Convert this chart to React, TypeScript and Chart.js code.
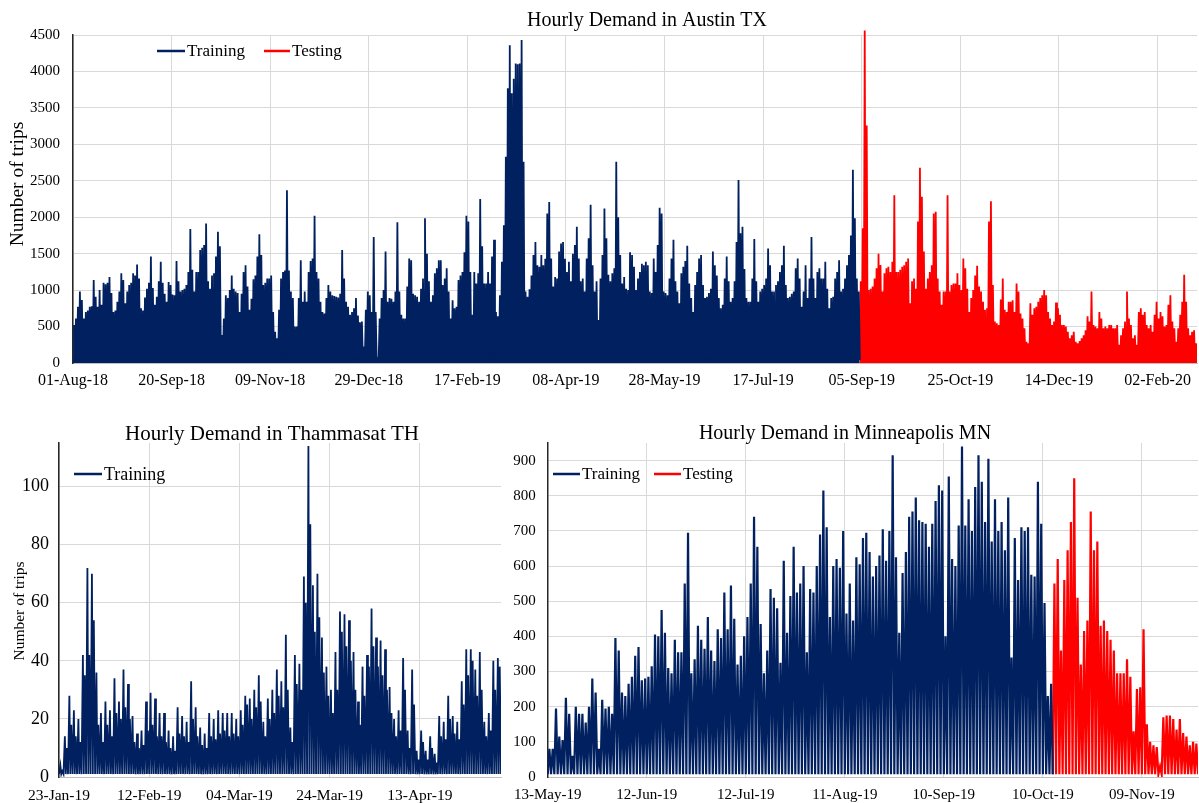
import React, { useEffect, useRef } from "react";
import { Chart, registerables } from "chart.js";

Chart.register(...registerables);

const NAVY = "#002060";
const RED = "#ff0000";
const GRID = "#d9d9d9";
const AXIS = "#262626";
const FONT = "'Liberation Serif', 'Times New Roman', Times, serif";

// ---------- Austin TX: daily peak of hourly trips, one value per day from 01-Aug-18 ----------
const AUSTIN_TRAIN_PEAKS = [
  520, 610, 770, 980, 865, 610, 700, 720, 770, 780,
  1140, 910, 773, 1000, 800, 1100, 1080, 1100, 1180, 960,
  700, 720, 840, 980, 1230, 1140, 820, 980, 1070, 1100,
  1230, 1200, 1350, 1160, 750, 720, 900, 1020, 1100, 1460,
  1030, 800, 910, 1120, 1390, 1100, 950, 840, 1110, 1070,
  940, 930, 1400, 1120, 980, 1000, 1020, 1070, 1250, 1840,
  1280, 980, 1250, 1250, 1550, 1580, 1620, 1915, 1120, 1020,
  1200, 1230, 1460, 1800, 1600, 385, 610, 930, 890, 1000,
  1200, 1020, 980, 960, 700, 950, 1250, 1340, 1050, 730,
  880, 1150, 1200, 1460, 1765, 1480, 1070, 1100, 1160, 1160,
  1200, 700, 430, 340, 730, 1160, 1250, 1270, 2370, 1270,
  980, 890, 500, 500, 890, 1410, 840, 980, 840, 1250,
  1400, 1435, 2020, 1250, 1160, 840, 700, 680, 890, 1070,
  980, 930, 920, 910, 900, 950, 1550, 1160, 840, 770,
  660, 700, 750, 890, 650, 560,
  570, 225, 730, 980, 930, 700, 1730, 700, 60, 610,
  890, 1000, 1530, 840, 890, 880, 840, 980, 1930, 980,
  660, 610, 610, 1050, 1435, 1410, 950, 930, 910, 840,
  1020, 1160, 1985, 1500, 1120, 840, 930, 1230, 1300, 1410,
  1410, 1070, 1160, 1300, 980, 610, 860, 750, 770, 1140,
  1200, 1250, 1520, 2020, 1940, 1250, 660, 1250, 1090, 1230,
  2250, 1600, 1090, 1090, 1250, 1090, 1460, 1690, 700, 640,
  930, 1390, 1890, 2830, 3770, 4360, 3700, 3900, 4110, 4100,
  4110, 4430, 2760, 980, 910, 1010, 1200, 1480, 1660, 1340,
  1320, 1480, 1340, 1430, 2050, 2210, 1435, 1050, 1180, 1160,
  1530, 1640, 1660, 1430, 1250, 1390, 1120, 1500, 1620, 1870,
  1435, 1120, 1160, 980, 1435, 1710, 2170, 1340, 980, 1120,
  590, 1160, 1480, 2120, 1710, 1210, 1120, 1230, 1300, 2760,
  2000, 1480, 1090, 1180, 1020, 1000, 1520, 1480, 1320, 1000,
  1160, 1250, 1360, 1340, 1390, 1340, 980,
  960, 1435, 1250, 1620, 2130, 2050, 980, 960, 930, 1160,
  1435, 1690, 1120, 980, 820, 1230, 1320, 1400, 1610, 1090,
  890, 700, 1070, 1250, 1435, 1480, 1070, 890, 910, 960,
  1020, 1530, 1340, 1200, 890, 750, 800, 1160, 1460, 1120,
  840, 890, 1120, 1660, 2510, 1780, 1870, 1290, 890, 840,
  840, 1160, 1700, 1120, 840, 980, 1020, 1070, 1160, 1570,
  1340, 980, 980, 1070, 1120, 1250, 1340, 1610, 1070, 890,
  910, 950, 980, 1300, 1435, 1160, 770, 980, 1340, 890,
  1160, 1730, 1160, 890, 1250, 1300, 1160, 1160, 1390, 1020,
  750, 890, 910, 1160, 1250, 1410, 980, 1020, 1160, 1340,
  1480, 1750, 2650, 1985, 1160, 980,
];

const AUSTIN_TEST_PEAKS = [
  1120, 1850, 4560, 3260, 1000, 1020, 1050, 1160, 1300, 1500,
  1345, 980, 1230, 1300, 1320, 1250, 1390, 2300, 1250, 1250,
  1280, 1320, 1340, 1390, 1435, 820, 1120, 1160, 1020, 1940,
  2680, 2280, 1530, 1020, 1160, 1250, 1340, 2050, 2075, 1160,
  980, 800, 980, 980, 2300, 980, 1070, 1090, 1090, 1230,
  1070, 1000, 1435, 1300, 1020, 700, 890, 1000, 1200, 1335,
  1050, 980, 840, 730, 750, 1940, 2220, 1070, 570, 545,
  520, 870, 1160, 730, 700, 840, 840, 860, 700, 1090,
  980, 680, 610, 475, 290, 270, 820, 660, 750, 770,
  840, 890, 930, 1000, 930, 700, 610, 520, 570, 830,
  750, 660, 520, 520, 500, 430, 340, 380, 430, 290,
  270, 300, 340, 380, 450, 640, 570, 980, 520, 500,
  475, 700, 610, 475, 500, 475, 520, 520, 475, 475,
  520, 250, 380, 475, 570, 980, 610, 520, 340, 380,
  250, 700, 750, 660, 700, 520, 475, 520, 430, 660,
  840, 610, 700, 640, 500, 520, 800, 930, 570, 475,
  290, 475, 660, 840, 1210, 840, 475, 380, 430, 450,
  270,
];

const AUSTIN_NIGHT_LOW = 40;
const AUSTIN_DATES = [
  "01-Aug-18", "20-Sep-18", "09-Nov-18", "29-Dec-18", "17-Feb-19", "08-Apr-19",
  "28-May-19", "17-Jul-19", "05-Sep-19", "25-Oct-19", "14-Dec-19", "02-Feb-20",
];
const AUSTIN_DATE_STEP = 50;
const AUSTIN_DAYS = 570;

// ---------- Thammasat TH: morning and afternoon peaks per day from 23-Jan-19 ----------
const THAMMASAT_MAIN_PEAKS = [
  4, 14, 28, 23, 20, 42, 72, 70, 36, 22,
  26, 23, 34, 26, 37, 32, 21, 15, 16, 26,
  29, 27, 22, 22, 16, 14, 24, 21, 19, 33,
  24, 17, 15, 22, 20, 23, 22, 22, 22, 20,
  23, 28, 27, 30, 35, 19, 27, 30, 37, 33,
  49, 17, 42, 39, 69, 114, 66, 70, 48, 38,
  30, 43, 57, 56, 54, 43, 26, 38, 42, 58,
  48, 47, 44, 31, 20, 23, 41, 16, 37, 9,
  16, 9, 14, 8, 21, 19, 28, 21, 19, 33,
  44, 44, 37, 43, 19, 22, 40, 41,
];
const THAMMASAT_SECOND_PEAKS = [
  2, 10, 18, 14, 12, 35, 42, 54, 18, 12,
  18, 14, 22, 20, 24, 20, 12, 10, 11, 16,
  18, 14, 14, 12, 10, 9, 15, 14, 12, 20,
  14, 11, 10, 14, 13, 15, 16, 14, 15, 14,
  18, 25, 20, 24, 26, 14, 20, 22, 28, 24,
  30, 12, 32, 30, 60, 87, 50, 55, 36, 28,
  22, 30, 50, 45, 40, 30, 18, 28, 38, 45,
  38, 35, 30, 22, 14, 16, 30, 10, 25, 6,
  12, 6, 10, 5, 14, 13, 20, 15, 13, 25,
  35, 40, 28, 30, 14, 16, 30, 38,
];
const THAMMASAT_NIGHT_LOW = 1;
const THAMMASAT_DATES = ["23-Jan-19", "12-Feb-19", "04-Mar-19", "24-Mar-19", "13-Apr-19"];
const THAMMASAT_DATE_STEP = 20;
const THAMMASAT_DAYS = 98;

// ---------- Minneapolis MN: daily peak of hourly trips from 13-May-19 ----------
const MINNEAPOLIS_TRAIN_PEAKS = [
  80, 80, 195, 115, 105, 225, 180, 60, 200, 180,
  180, 155, 200, 280, 240, 80, 220, 195, 200, 180,
  395, 360, 240, 230, 265, 285, 345, 370, 275, 280,
  285, 315, 405, 400, 475, 410, 310, 295, 390, 355,
  355, 550, 695, 295, 335, 430, 390, 365, 455, 360,
  330, 420, 395, 525, 420, 545, 450, 320, 345, 400,
  455, 550, 740, 655, 435, 295, 360, 535, 510, 480,
  325, 615, 410, 515, 655, 525, 550, 600, 355, 535,
  525, 600, 690, 815, 710, 455, 600, 620, 595, 700,
  465, 550, 445, 625, 605, 680, 695, 640, 570, 600,
  630, 705, 615, 700, 915, 625, 410, 580, 640, 740,
  755, 795, 730, 725, 720, 655, 720, 785, 830, 815,
  400, 855, 620, 600, 715, 940, 715, 790, 700, 825,
  915, 840, 725, 905, 670, 790, 700, 725, 645, 795,
  340, 680, 560, 710, 700, 710, 575, 570, 840, 720,
  495, 230, 265,
];
const MINNEAPOLIS_TEST_PEAKS = [
  550, 620, 360, 560, 645, 725, 850, 510, 320, 415,
  445, 755, 645, 670, 430, 445, 415, 390, 360, 295,
  295, 295, 335, 285, 130, 250, 255, 420, 150, 100,
  90, 85, 30, 170, 175, 175, 165, 135, 165, 125,
  115, 90, 100, 95,
];
const MINNEAPOLIS_NIGHT_LOW = 8;
const MINNEAPOLIS_DATES = [
  "13-May-19", "12-Jun-19", "12-Jul-19", "11-Aug-19", "10-Sep-19", "10-Oct-19", "09-Nov-19",
];
const MINNEAPOLIS_DATE_STEP = 30;
const MINNEAPOLIS_DAYS = 197;

// ---------- helpers ----------
type Pt = { x: number; y: number };

// Each day: an overnight low followed by the daily peak; the run closes on a low.
function dailyPeaks(peaks: number[], firstDay: number, low: number): Pt[] {
  const pts: Pt[] = [];
  peaks.forEach((p, i) => {
    pts.push({ x: firstDay + i, y: low });
    pts.push({ x: firstDay + i + 0.5, y: p });
  });
  pts.push({ x: firstDay + peaks.length, y: low });
  return pts;
}

// Each day: low, morning peak, midday dip, afternoon peak.
function twicePerDay(main: number[], second: number[], low: number): Pt[] {
  const pts: Pt[] = [];
  main.forEach((p, i) => {
    pts.push({ x: i, y: low });
    pts.push({ x: i + 0.3, y: p });
    pts.push({ x: i + 0.5, y: low });
    pts.push({ x: i + 0.72, y: second[i] });
  });
  pts.push({ x: main.length, y: low });
  return pts;
}

type LegendItem = { label: string; color: string; x1: number; x2: number };
type OverlaySpec = {
  title: { text: string; x: number; y: number; size: number };
  yTitle?: { text: string; x: number; y: number; size: number };
  legend: { y: number; size: number; items: LegendItem[] };
};

function overlayPlugin(spec: OverlaySpec) {
  return {
    id: "panelOverlay",
    afterDraw(chart: Chart) {
      const ctx = chart.ctx;
      ctx.save();
      ctx.fillStyle = "#000";
      ctx.textAlign = "center";
      ctx.textBaseline = "middle";
      ctx.font = `${spec.title.size}px ${FONT}`;
      ctx.fillText(spec.title.text, spec.title.x, spec.title.y);

      if (spec.yTitle) {
        ctx.save();
        ctx.translate(spec.yTitle.x, spec.yTitle.y);
        ctx.rotate(-Math.PI / 2);
        ctx.font = `${spec.yTitle.size}px ${FONT}`;
        ctx.fillText(spec.yTitle.text, 0, 0);
        ctx.restore();
      }

      ctx.textAlign = "left";
      ctx.font = `${spec.legend.size}px ${FONT}`;
      for (const item of spec.legend.items) {
        ctx.strokeStyle = item.color;
        ctx.lineWidth = 2.5;
        ctx.beginPath();
        ctx.moveTo(item.x1, spec.legend.y);
        ctx.lineTo(item.x2, spec.legend.y);
        ctx.stroke();
        ctx.fillStyle = "#000";
        ctx.fillText(item.label, item.x2 + 2, spec.legend.y + 1);
      }
      ctx.restore();
    },
  };
}

type PanelSpec = {
  datasets: any[];
  dates: string[];
  dateStep: number;
  dayMax: number;
  yMax: number;
  yStep: number;
  yWidth: number;
  xHeight: number;
  padTop: number;
  padRight: number;
  yFont: number;
  xFont: number;
  yPad: number;
  xPad: number;
  overlay: OverlaySpec;
};

function createPanel(canvas: HTMLCanvasElement, spec: PanelSpec): Chart {
  return new Chart(canvas, {
    type: "line",
    data: { datasets: spec.datasets },
    options: {
      responsive: false,
      animation: false,
      devicePixelRatio: 1,
      parsing: false,
      layout: { padding: { top: spec.padTop, right: spec.padRight, left: 0, bottom: 0 } },
      plugins: {
        legend: { display: false },
        title: { display: false },
        tooltip: { enabled: false },
      },
      elements: { point: { radius: 0 }, line: { tension: 0 } },
      scales: {
        x: {
          type: "linear",
          min: 0,
          max: spec.dayMax,
          afterBuildTicks: (s: any) => {
            s.ticks = spec.dates.map((_, i) => ({ value: i * spec.dateStep }));
          },
          afterFit: (s: any) => {
            s.height = spec.xHeight;
          },
          ticks: {
            autoSkip: false,
            maxRotation: 0,
            padding: spec.xPad,
            color: "#000",
            font: { family: FONT, size: spec.xFont },
            callback: (v: any) => spec.dates[Math.round(Number(v) / spec.dateStep)] ?? "",
          },
          grid: { color: GRID, drawTicks: false },
          border: { color: "#bfbfbf" },
        },
        y: {
          min: 0,
          max: spec.yMax,
          afterFit: (s: any) => {
            s.width = spec.yWidth;
          },
          ticks: {
            stepSize: spec.yStep,
            includeBounds: false,
            padding: spec.yPad,
            color: "#000",
            font: { family: FONT, size: spec.yFont },
            callback: (v: any) => String(v),
          },
          grid: { color: GRID, drawTicks: false },
          border: { color: AXIS, width: 1.5 },
        },
      },
    } as any,
    plugins: [overlayPlugin(spec.overlay)],
  });
}

const AUSTIN_PANEL: PanelSpec = {
  datasets: [
    {
      label: "Training",
      data: dailyPeaks(AUSTIN_TRAIN_PEAKS, 0, AUSTIN_NIGHT_LOW),
      borderColor: NAVY,
      backgroundColor: NAVY,
      borderWidth: 1.8,
      fill: "origin",
    },
    {
      label: "Testing",
      data: dailyPeaks(AUSTIN_TEST_PEAKS, AUSTIN_TRAIN_PEAKS.length, AUSTIN_NIGHT_LOW),
      borderColor: RED,
      backgroundColor: RED,
      borderWidth: 1.8,
      fill: "origin",
      clip: { left: 0, top: 8, right: 0, bottom: 0 },
    },
  ],
  dates: AUSTIN_DATES,
  dateStep: AUSTIN_DATE_STEP,
  dayMax: AUSTIN_DAYS,
  yMax: 4500,
  yStep: 500,
  yWidth: 73,
  xHeight: 37,
  padTop: 35,
  padRight: 2,
  yFont: 15,
  xFont: 16,
  yPad: 13,
  xPad: 8,
  overlay: {
    title: { text: "Hourly Demand in Austin TX", x: 647, y: 21, size: 20 },
    yTitle: { text: "Number of trips", x: 18, y: 184, size: 19.5 },
    legend: {
      y: 51,
      size: 17,
      items: [
        { label: "Training", color: NAVY, x1: 157, x2: 185 },
        { label: "Testing", color: RED, x1: 264, x2: 290 },
      ],
    },
  },
};

const THAMMASAT_PANEL: PanelSpec = {
  datasets: [
    {
      label: "Training",
      data: twicePerDay(THAMMASAT_MAIN_PEAKS, THAMMASAT_SECOND_PEAKS, THAMMASAT_NIGHT_LOW),
      borderColor: NAVY,
      borderWidth: 1.8,
      fill: false,
    },
  ],
  dates: THAMMASAT_DATES,
  dateStep: THAMMASAT_DATE_STEP,
  dayMax: THAMMASAT_DAYS,
  yMax: 115,
  yStep: 20,
  yWidth: 59,
  xHeight: 26,
  padTop: 23,
  padRight: 4,
  yFont: 18,
  xFont: 15.5,
  yPad: 10,
  xPad: 10,
  overlay: {
    title: { text: "Hourly Demand in Thammasat TH", x: 272, y: 14, size: 21 },
    yTitle: { text: "Number of trips", x: 20, y: 191, size: 15.5 },
    legend: {
      y: 54,
      size: 18,
      items: [{ label: "Training", color: NAVY, x1: 74, x2: 102 }],
    },
  },
};

const MINNEAPOLIS_PANEL: PanelSpec = {
  datasets: [
    {
      label: "Training",
      data: dailyPeaks(MINNEAPOLIS_TRAIN_PEAKS, 0, MINNEAPOLIS_NIGHT_LOW),
      borderColor: NAVY,
      borderWidth: 2.2,
      fill: false,
    },
    {
      label: "Testing",
      data: dailyPeaks(MINNEAPOLIS_TEST_PEAKS, MINNEAPOLIS_TRAIN_PEAKS.length, MINNEAPOLIS_NIGHT_LOW),
      borderColor: RED,
      borderWidth: 2.2,
      fill: false,
    },
  ],
  dates: MINNEAPOLIS_DATES,
  dateStep: MINNEAPOLIS_DATE_STEP,
  dayMax: MINNEAPOLIS_DAYS,
  yMax: 950,
  yStep: 100,
  yWidth: 40,
  xHeight: 26,
  padTop: 23,
  padRight: 1,
  yFont: 15,
  xFont: 15,
  yPad: 12,
  xPad: 9,
  overlay: {
    title: { text: "Hourly Demand in Minneapolis MN", x: 340, y: 14, size: 20 },
    legend: {
      y: 54,
      size: 17,
      items: [
        { label: "Training", color: NAVY, x1: 48, x2: 75 },
        { label: "Testing", color: RED, x1: 149, x2: 176 },
      ],
    },
  },
};

export default function App() {
  const austinRef = useRef<HTMLCanvasElement>(null);
  const thammasatRef = useRef<HTMLCanvasElement>(null);
  const minneapolisRef = useRef<HTMLCanvasElement>(null);

  useEffect(() => {
    const charts = [
      createPanel(austinRef.current!, AUSTIN_PANEL),
      createPanel(thammasatRef.current!, THAMMASAT_PANEL),
      createPanel(minneapolisRef.current!, MINNEAPOLIS_PANEL),
    ];
    return () => charts.forEach((c) => c.destroy());
  }, []);

  return (
    <div style={{ position: "absolute", left: 0, top: 0, width: 1199, height: 803, background: "#fff" }}>
      <canvas ref={austinRef} width={1199} height={400} style={{ position: "absolute", left: 0, top: 0 }} />
      <canvas ref={thammasatRef} width={505} height={383} style={{ position: "absolute", left: 0, top: 420 }} />
      <canvas ref={minneapolisRef} width={694} height={383} style={{ position: "absolute", left: 505, top: 420 }} />
    </div>
  );
}
